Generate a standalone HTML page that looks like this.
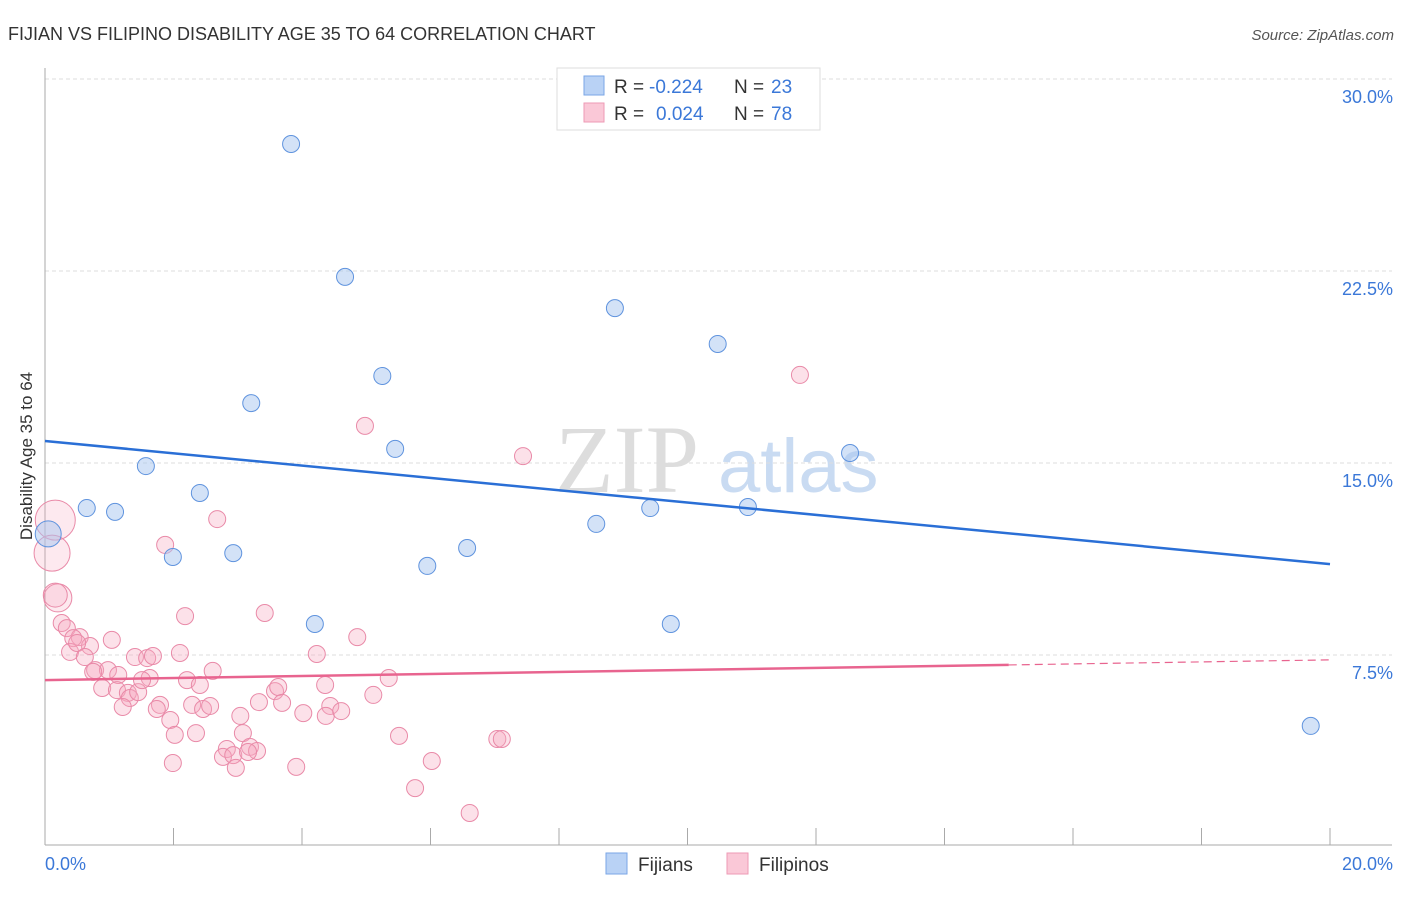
<!DOCTYPE html>
<html><head><meta charset="utf-8"><style>
body{margin:0;background:#fff;font-family:"Liberation Sans",sans-serif;}
</style></head><body>
<svg width="1406" height="892" xmlns="http://www.w3.org/2000/svg" font-family="Liberation Sans, sans-serif">
<text x="8" y="40" font-size="18" fill="#333">FIJIAN VS FILIPINO DISABILITY AGE 35 TO 64 CORRELATION CHART</text>
<text x="1394" y="40" font-size="15" fill="#555" text-anchor="end" font-style="italic">Source: ZipAtlas.com</text>
<text x="555" y="492" font-size="96" fill="#ddd" font-family="Liberation Serif, serif">ZIP</text>
<text x="718" y="492" font-size="76" fill="#c9dbf2">atlas</text>
<g id="grid"></g>
<line x1="45" y1="68" x2="45" y2="845" stroke="#aaa"/>
<line x1="45" y1="845" x2="1392" y2="845" stroke="#aaa"/>
<g id="xt"></g>
<text x="32" y="456" font-size="17" fill="#333" text-anchor="middle" transform="rotate(-90 32 456)">Disability Age 35 to 64</text>
<text x="45" y="870" font-size="18" fill="#3b78d8">0.0%</text>
<text x="1393" y="870" font-size="18" fill="#3b78d8" text-anchor="end">20.0%</text>
<g id="pts"></g>
<g id="trend"></g>
<g>
<rect x="557" y="68" width="263" height="62" fill="#fff" stroke="#ddd"/>
<rect x="584" y="76" width="20" height="19" fill="#b9d2f5" stroke="#7aa6e6"/>
<rect x="584" y="103" width="20" height="19" fill="#fac8d7" stroke="#ee9ab4"/>
<text y="93" font-size="19" fill="#333"><tspan x="614">R =</tspan><tspan x="649" fill="#3b78d8">-0.224</tspan><tspan x="734">N =</tspan><tspan x="771" fill="#3b78d8">23</tspan></text>
<text y="120" font-size="19" fill="#333"><tspan x="614">R =</tspan><tspan x="656" fill="#3b78d8">0.024</tspan><tspan x="734">N =</tspan><tspan x="771" fill="#3b78d8">78</tspan></text>
</g>
<g>
<rect x="606" y="853" width="21" height="21" fill="#b9d2f5" stroke="#7aa6e6"/>
<text x="638" y="871" font-size="19" fill="#333">Fijians</text>
<rect x="727" y="853" width="21" height="21" fill="#fac8d7" stroke="#ee9ab4"/>
<text x="759" y="871" font-size="19" fill="#333">Filipinos</text>
</g>
</svg>
<script>
const yTicks=[7.5,15,22.5,30];
const yTickLabels=["7.5%","15.0%","22.5%","30.0%"];
const xTicks=[2,4,6,8,10,12,14,16,18,20];
const fijX=[3.83,4.67,8.87,10.47,5.25,3.21,5.45,12.53,1.57,2.41,0.65,1.09,9.42,10.94,8.58,0.05,1.99,2.93,6.57,5.95,4.20,9.74,19.70];
const fijY=[27.46,22.27,21.05,19.65,18.40,17.34,15.55,15.39,14.88,13.83,13.24,13.09,13.24,13.28,12.62,12.23,11.33,11.48,11.68,10.98,8.71,8.71,4.73];
const filX=[0.16,0.11,0.20,0.16,0.26,0.34,0.54,0.44,0.70,0.39,0.50,1.04,0.62,0.78,0.98,1.14,0.75,0.89,1.12,1.29,1.32,1.45,1.21,1.40,1.59,1.68,1.63,1.51,2.10,2.18,2.21,2.41,2.61,1.87,2.68,1.79,1.74,1.95,2.02,1.99,2.29,2.46,2.57,2.35,3.04,3.08,2.83,2.77,2.93,2.97,3.19,3.30,3.16,3.42,3.33,3.58,3.63,3.69,3.91,4.02,4.23,4.36,4.44,4.37,4.61,4.86,5.11,5.35,5.51,5.76,6.02,6.61,7.04,7.11,11.75,4.98,7.44];
const filY=[12.77,11.48,9.73,9.84,8.75,8.55,8.20,8.16,7.85,7.62,7.97,8.09,7.42,6.91,6.91,6.72,6.84,6.21,6.13,6.02,5.82,6.05,5.47,7.42,7.38,7.46,6.60,6.52,7.58,9.02,6.52,6.33,6.88,11.80,12.81,5.55,5.39,4.96,4.38,3.28,5.55,5.39,5.51,4.45,5.12,4.45,3.83,3.52,3.59,3.09,3.91,3.75,3.71,9.14,5.66,6.09,6.25,5.63,3.13,5.23,7.54,6.33,5.51,5.12,5.31,8.20,5.94,6.60,4.34,2.30,3.36,1.33,4.22,4.22,18.44,16.45,15.27];
const filR=[20,18,14,12];
const fijR=[null,null,null,null,null,null,null,null,null,null,null,null,null,null,null,13];
const fijTrend=[15.86,11.05];
const filTrend=[6.52,7.31];
const NS="http://www.w3.org/2000/svg";
const X=v=>45+v/20*1285;
const Y=v=>847-v/7.5*192;
function mk(t,a,p){const e=document.createElementNS(NS,t);for(const k in a)e.setAttribute(k,a[k]);document.getElementById(p).appendChild(e);return e;}
yTicks.forEach((t,i)=>{
 const l=mk('line',{x1:45,x2:1392,y1:Y(t),y2:Y(t),stroke:'#ddd','stroke-dasharray':'4,3'},'grid');
 
 
 const tx=mk('text',{x:1393,y:Y(t)+24,'font-size':18,fill:'#3b78d8','text-anchor':'end'},'grid');
 tx.textContent=yTickLabels[i];
 
 
});
xTicks.forEach(t=>{
 const l=mk('line',{x1:X(t),x2:X(t),y1:828,y2:845,stroke:'#aaa'},'xt');
 
 
});
filX.forEach((v,i)=>{
 const c=mk('circle',{cx:X(v),cy:Y(filY[i]),r:filR[i]||8.5,fill:filR[i]?'rgba(246,168,192,0.25)':'rgba(246,168,192,0.35)',stroke:'#e98aa8','stroke-width':1},'pts');
 
 
});
fijX.forEach((v,i)=>{
 const c=mk('circle',{cx:X(v),cy:Y(fijY[i]),r:fijR[i]||8.5,fill:'rgba(168,198,240,0.5)',stroke:'#5f93de','stroke-width':1},'pts');
 
 
});
const b=mk('line',{x1:X(0),y1:Y(fijTrend[0]),x2:X(20),y2:Y(fijTrend[1]),stroke:'#2a6fd6','stroke-width':2.5},'trend');


const f15=filTrend[0]+(filTrend[1]-filTrend[0])*0.75;
const p1=mk('line',{x1:X(0),y1:Y(filTrend[0]),x2:X(15),y2:Y(f15),stroke:'#e8648f','stroke-width':2.5},'trend');


const p2=mk('line',{x1:X(15),y1:Y(f15),x2:X(20),y2:Y(filTrend[1]),stroke:'#e8648f','stroke-width':1.2,'stroke-dasharray':'8,5'},'trend');


</script>
</body></html>
